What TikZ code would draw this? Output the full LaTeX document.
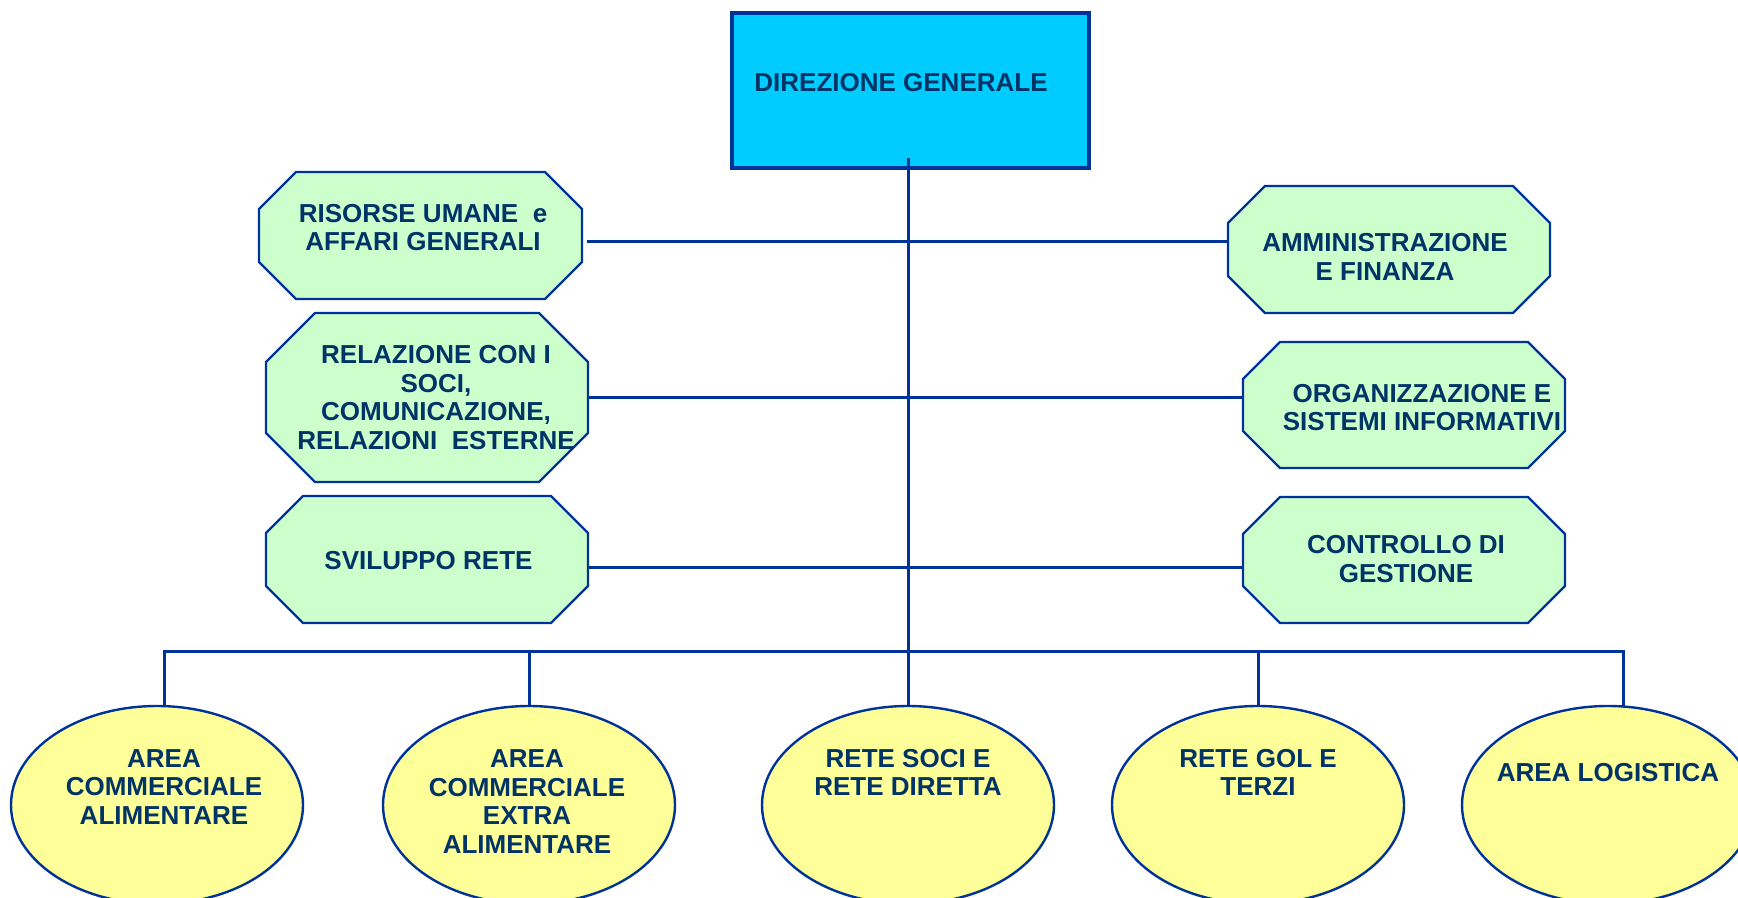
\documentclass[tikz,border=0pt]{standalone}
\usepackage{fontspec}
\setmainfont{Liberation Sans}
\usetikzlibrary{shapes.geometric}
\definecolor{navy}{RGB}{0,51,102}
\definecolor{bline}{RGB}{0,51,153}
\definecolor{dgfill}{RGB}{0,204,255}
\definecolor{octfill}{RGB}{204,255,204}
\definecolor{elfill}{RGB}{255,255,153}
% name, cx, cy, w, h, chamfer (all in px)
\newcommand\octobox[6]{%
  \path[octo] ({#2-#4/2+#6},{#3-#5/2}) -- ({#2+#4/2-#6},{#3-#5/2}) -- ({#2+#4/2},{#3-#5/2+#6}) -- ({#2+#4/2},{#3+#5/2-#6}) -- ({#2+#4/2-#6},{#3+#5/2}) -- ({#2-#4/2+#6},{#3+#5/2}) -- ({#2-#4/2},{#3+#5/2-#6}) -- ({#2-#4/2},{#3-#5/2+#6}) -- cycle;
  \node[frame, minimum width={#4*0.5pt}, minimum height={#5*0.5pt}] (#1) at (#2,#3) {};
}
\begin{document}
\begin{tikzpicture}[x=0.5pt,y=-0.5pt,
  conn/.style={draw=bline, line width=1.5pt},
  octo/.style={draw=bline, fill=octfill, line width=1.2pt, line join=miter},
  frame/.style={draw=none, rectangle, inner sep=0pt, outer sep=0pt},
  txt/.style={text=navy, font=\bfseries\fontsize{13}{14.4}\selectfont, align=center, inner sep=0pt},
  dgbox/.style={rectangle, draw=bline, fill=dgfill, line width=1.6pt, minimum width=178.5pt, minimum height=77.5pt, inner sep=0pt, outer sep=0pt},
  ell/.style={ellipse, draw=bline, fill=elfill, line width=1.2pt, minimum width=146pt, minimum height=99pt, inner sep=0pt, outer sep=0pt}]
\useasboundingbox (0,0) rectangle (1738,898);

% top box
\node[dgbox] (dg) at (910.5,90.5) {};

% octagons
\octobox{L1}{420.5}{235.5}{323}{127}{37}
\octobox{L2}{427}{397.5}{322}{169}{49}
\octobox{L3}{427}{559.5}{322}{127}{37}
\octobox{R1}{1389}{249.5}{322}{127}{37}
\octobox{R2}{1404}{405}{322}{126}{37}
\octobox{R3}{1404}{560}{322}{126}{37}

% ellipses
\node[ell] (E1) at (157,805) {};
\node[ell] (E2) at (529,805) {};
\node[ell] (E3) at (908,805) {};
\node[ell] (E4) at (1258,805) {};
\node[ell] (E5) at (1608,805) {};

% connectors
\coordinate (y1) at (0,242);
\coordinate (y2) at (0,397);
\coordinate (y3) at (0,567);
\coordinate (bus) at (0,651);
\draw[conn] ([xshift=2.5pt]L1.east |- y1) -- (R1.west |- y1);
\draw[conn] (L2.east |- y2) -- (R2.west |- y2);
\draw[conn] (L3.east |- y3) -- (R3.west |- y3);
\draw[conn] ([yshift=5pt]dg.south -| E3.north) -- (E3.north);
\draw[conn] ([xshift=3.5pt]E1.north) -- ([xshift=3.5pt]E1.north |- bus) -- ([xshift=7.5pt]E5.north |- bus) -- ([xshift=7.5pt]E5.north);
\draw[conn] (E2.north |- bus) -- (E2.north);
\draw[conn] (E4.north |- bus) -- (E4.north);

% texts
\node[txt] (dgt) at (901,83) {DIREZIONE GENERALE};
\node[txt] (L1t) at (423,227.5) {RISORSE UMANE\ \ e\\AFFARI GENERALI};
\node[txt] (L2t) at (436,397.5) {RELAZIONE CON I\\SOCI,\\COMUNICAZIONE,\\RELAZIONI\ \ ESTERNE};
\node[txt] (L3t) at (428.5,561) {SVILUPPO RETE};
\node[txt] (R1t) at (1385,257) {AMMINISTRAZIONE\\E FINANZA};
\node[txt] (R2t) at (1422,407.5) {ORGANIZZAZIONE E\\SISTEMI INFORMATIVI};
\node[txt] (R3t) at (1406,559) {CONTROLLO DI\\GESTIONE};
\node[txt] (E1t) at (164,787) {AREA\\COMMERCIALE\\ALIMENTARE};
\node[txt] (E2t) at (527,801.5) {AREA\\COMMERCIALE\\EXTRA\\ALIMENTARE};
\node[txt] (E3t) at (908,772.5) {RETE SOCI E\\RETE DIRETTA};
\node[txt] (E4t) at (1258,772.5) {RETE GOL E\\TERZI};
\node[txt] (E5t) at (1608,773) {AREA LOGISTICA};
\end{tikzpicture}
\end{document}
